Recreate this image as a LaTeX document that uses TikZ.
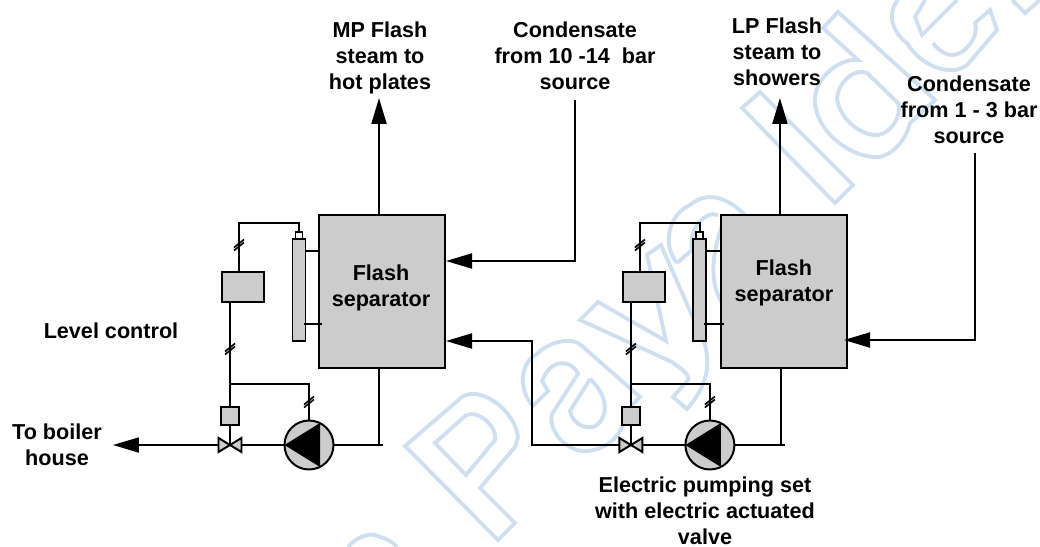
\documentclass[tikz,border=0pt]{standalone}
\usepackage{fontspec}
\setmainfont{Liberation Sans}
\usetikzlibrary{arrows.meta}
\definecolor{tankgray}{HTML}{CCCCCC}
\definecolor{wmblue}{HTML}{CFDFEF}

\begin{document}
\begin{tikzpicture}
[x=0.02cm, y=-0.02cm,
pipe/.style={line width=1.13pt},
flow/.style={line width=1.13pt, -{Triangle[length=5.2mm,width=3mm]}},
tank/.style={draw, line width=1.13pt, fill=tankgray, inner sep=0pt, outer sep=0pt},
pump/.style={draw, circle, line width=1.13pt, fill=tankgray, inner sep=0pt, outer sep=0pt, minimum size=0.98cm},
lbl/.style={font=\bfseries\fontsize{12.3}{14.8}\selectfont, align=center, inner sep=0pt},
wm/.style={draw=wmblue, line width=2.2pt, line join=miter},
brk/.pic={\draw[line width=.9pt] (-5,2.5) -- (5,-5.5) (-5,5.5) -- (5,-2.5);}]
\useasboundingbox (0,0) rectangle (1040,547);

% letters behind the plant
\draw[wm] (405,446) -- (462,397) .. controls (480,385) and (515,410) .. (518,437) -- (515,447) -- (480,488) -- (515,523) -- (498,540) -- cycle;
\draw[wm] (435,443) -- (465,416) .. controls (478,408) and (498,428) .. (495,440) -- (466,475) -- cycle;
\draw[wm] (533,406) .. controls (518,390) and (520,362) .. (537,354) .. controls (548,342) and (572,336) .. (582,346) -- (640,397) -- (626,411) .. controls (625,435) and (605,452) .. (583,451) .. controls (565,450) and (548,430) .. (552,414) -- (578,374) .. controls (574,362) and (552,355) .. (542,381) -- (548,391) -- cycle;
\draw[wm] (590,379) -- (570,411) .. controls (572,425) and (590,432) .. (598,424) .. controls (608,415) and (608,395) .. (590,379);
\draw[wm] (580,320) -- (598,302) -- (666,341) -- (647,255) -- (661,245) -- (705,345) .. controls (710,365) and (708,385) .. (687,409) -- (673,397) -- (688,380) .. controls (690,374) and (680,368) .. (672,362) -- cycle;
\draw[wm] (677,263) .. controls (662,245) and (668,215) .. (690,205) .. controls (705,192) and (725,195) .. (745,215);
\draw[wm] (677,263) -- (692,250) .. controls (688,230) and (705,210) .. (718,215);
\draw[wm] (722,225) .. controls (712,255) and (708,285) .. (725,307);
\draw[wm] (742,108) -- (760,92) -- (853,185) -- (835,203) -- cycle;
\draw[wm] (823,28) -- (838,12) -- (935,100) -- (910,123) .. controls (905,145) and (885,160) .. (873,157) .. controls (850,155) and (820,135) .. (815,105) .. controls (812,80) and (838,58) .. (858,60) -- cycle;
\draw[wm] (837,97) .. controls (840,80) and (855,68) .. (867,73) -- (898,103) .. controls (903,120) and (885,138) .. (873,135) .. controls (855,132) and (838,115) .. (837,97);
\draw[wm] (898,0) .. controls (885,15) and (895,35) .. (907,43) .. controls (920,65) and (950,78) .. (967,65) -- (997,30) -- (990,10) -- (975,23) .. controls (980,35) and (965,55) .. (953,55) .. controls (945,55) and (938,50) .. (933,43);
\draw[wm] (925,0) -- (915,17) -- (922,35) -- (957,0);
\draw[wm] (1012,0) -- (1025,13) -- (1040,0);
\draw[wm] (348,547) .. controls (358,535) and (372,532) .. (380,537) .. controls (388,539) and (394,543) .. (397,547);

% first set
\begin{scope}
\coordinate (steamA) at (379,98);
\coordinate (dropA) at (379,445);
\coordinate (endA) at (383,445);
\coordinate (valveA) at (230,445);
\coordinate (boilerA) at (113,445);
\coordinate (teeA) at (230,384);
\coordinate (riseA) at (299,223);
\coordinate (tapA) at (320,251);
\coordinate (tapB) at (322,324);
\node[tank, minimum width=2.52cm, minimum height=3.06cm] (tankA) at (382,291.5) {};
\node[tank, minimum width=.26cm, minimum height=2.04cm] (gaugeA) at (299,290) {};
\node[tank, fill=white, minimum width=.14cm, minimum height=.14cm] (floatA) at (299,235.5) {};
\node[tank, minimum width=.84cm, minimum height=.6cm] (ctrlA) at (243,287) {};
\node[tank, minimum width=.36cm, minimum height=.36cm] (actA) at (230,416) {};
\node[pump] (pumpA) at (309,445) {};
\draw[flow] (tankA.north -| steamA) -- (steamA);
\draw[pipe] (tankA.south -| dropA) -- (dropA);
\draw[pipe] (pumpA.east) -- (endA);
\draw[pipe] (pumpA.west) -- (valveA);
\draw[flow] (valveA) -- (boilerA);
\draw[pipe] (floatA.north) -- (riseA) -| (ctrlA.north -| 239,0);
\draw[pipe] (ctrlA.south -| teeA) -- (actA.north -| teeA);
\draw[pipe] (teeA) -| (pumpA.north);
\draw[pipe] (actA.south -| valveA) -- (valveA);
\draw[pipe] (gaugeA.east |- tapA) -- (tapA);
\draw[pipe] (gaugeA.east |- tapB) ++(-2,0) -- (tapB);
\fill (pumpA.west) -- (320,423) -- (320,467) -- cycle;
\draw[tank] (valveA) -- ++(-11.5,-7) -- ++(0,14) -- cycle;
\draw[tank] (valveA) -- ++(11.5,-7) -- ++(0,14) -- cycle;
\pic at (239,245) {brk};
\pic at (230,349) {brk};
\pic at (309,402) {brk};
\node[lbl] (nameA) at (381,288) {Flash\\separator};
\end{scope}

% second set
\begin{scope}[xshift=8.04cm]
\coordinate (steamB) at (378,98);
\coordinate (dropB) at (379,445);
\coordinate (endB) at (383,445);
\coordinate (valveB) at (229,445);
\coordinate (portB) at (218,445);
\coordinate (kneeB) at (130,445);
\coordinate (teeB) at (229,384);
\coordinate (riseB) at (298,223);
\coordinate (tapC) at (320,251);
\coordinate (tapD) at (322,324);
\node[tank, minimum width=2.52cm, minimum height=3.06cm] (tankB) at (382,291.5) {};
\node[tank, minimum width=.26cm, minimum height=2.04cm] (gaugeB) at (298,290) {};
\node[tank, fill=white, minimum width=.14cm, minimum height=.14cm] (floatB) at (298,235.5) {};
\node[tank, minimum width=.84cm, minimum height=.6cm] (ctrlB) at (242,287) {};
\node[tank, minimum width=.36cm, minimum height=.36cm] (actB) at (229,416) {};
\node[pump] (pumpB) at (308,445) {};
\draw[flow] (tankB.north -| steamB) -- (steamB);
\draw[pipe] (tankB.south -| dropB) -- (dropB);
\draw[pipe] (pumpB.east) -- (endB);
\draw[pipe] (pumpB.west) -- (valveB);
\draw[pipe] (floatB.north) -- (riseB) -| (ctrlB.north -| 238,0);
\draw[pipe] (ctrlB.south -| teeB) -- (actB.north -| teeB);
\draw[pipe] (teeB) -| (pumpB.north);
\draw[pipe] (actB.south -| valveB) -- (valveB);
\draw[pipe] (gaugeB.east |- tapC) -- (tapC);
\draw[pipe] (gaugeB.east |- tapD) ++(-2,0) -- (tapD);
\fill (pumpB.west) -- (319,423) -- (319,467) -- cycle;
\draw[tank] (valveB) -- ++(-11.5,-7) -- ++(0,14) -- cycle;
\draw[tank] (valveB) -- ++(11.5,-7) -- ++(0,14) -- cycle;
\pic at (238,245) {brk};
\pic at (229,349) {brk};
\pic at (308,402) {brk};
\node[lbl] (nameB) at (382,283) {Flash\\separator};
\end{scope}

\coordinate (inA) at (446,261);
\coordinate (inB) at (844,340);
\coordinate (inC) at (446,341);
\coordinate (srcA) at (575,100);
\coordinate (srcB) at (975,153);
\draw[flow] (srcA) |- (inA);
\draw[flow] (srcB) |- (inB);
\draw[flow] (portB) -- (kneeB) |- (inC);

\node[lbl] (mpText) at (380,58) {MP Flash\\steam to\\hot plates};
\node[lbl] (srcAText) at (575,55.5) {Condensate\\from 10 -14~~bar\\source};
\node[lbl] (lpText) at (777,52) {LP Flash\\steam to\\showers};
\node[lbl] (srcBText) at (969,110) {Condensate\\from 1 - 3 bar\\source};
\node[lbl] (levelText) at (111,331) {Level control};
\node[lbl] (boilerText) at (57,445) {To boiler\\house};
\node[lbl] (pumpText) at (705,511) {Electric pumping set\\with electric actuated\\valve};
\end{tikzpicture}
\end{document}
